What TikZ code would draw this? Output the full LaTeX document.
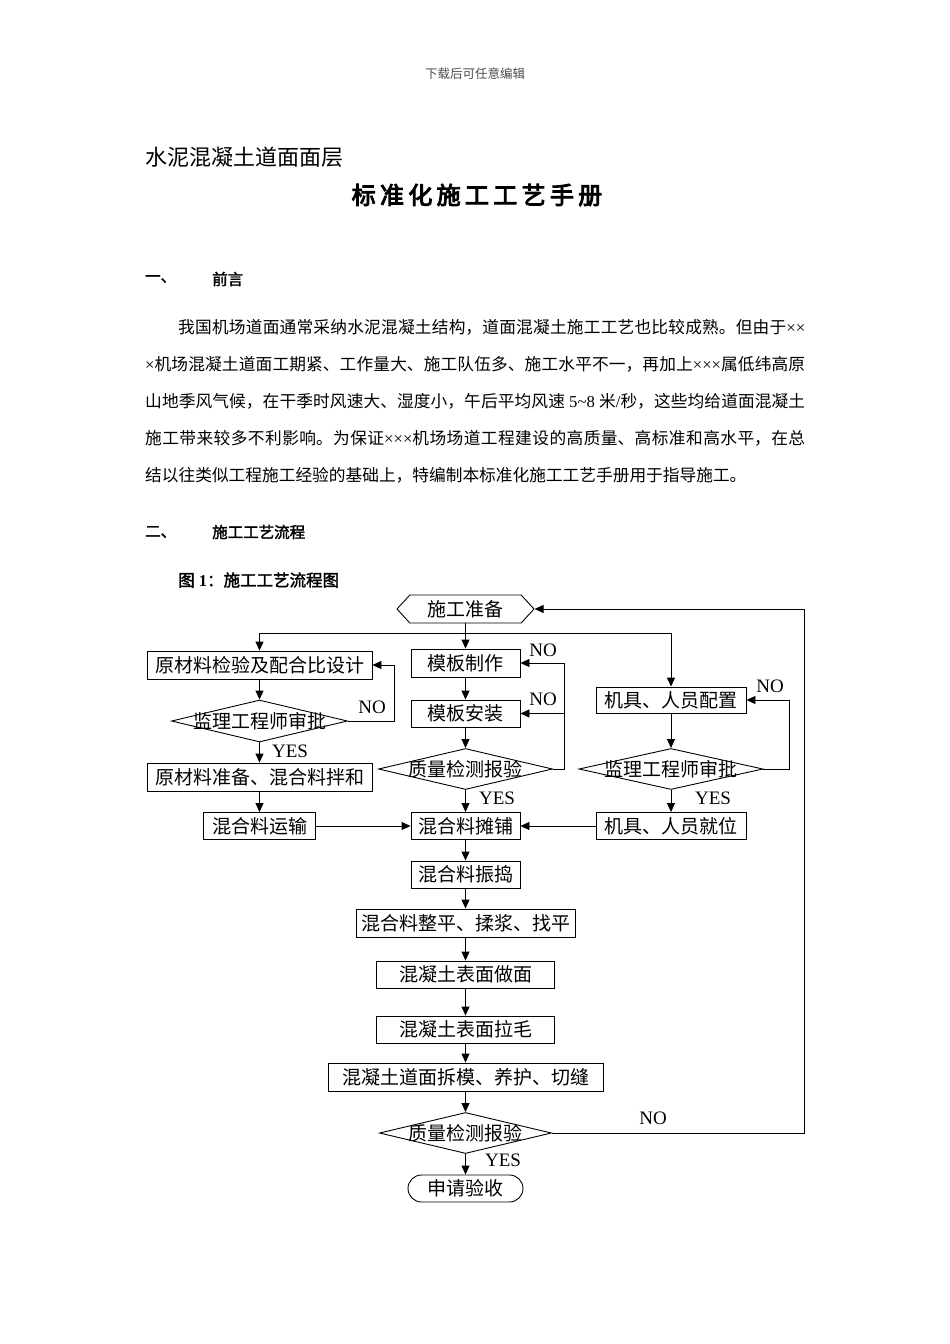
\documentclass[tikz,border=0pt]{standalone}
\usepackage{fontspec}
\setmainfont{Liberation Serif}
\newfontfamily\cjk{Noto Sans CJK SC}
\newfontfamily\cjkb[FakeBold=2]{Noto Sans CJK SC}
\newfontfamily\cjkt[FakeBold=4,LetterSpace=18]{Noto Sans CJK SC}
\usetikzlibrary{arrows.meta,shapes.geometric,shapes.symbols,shapes.misc}
\XeTeXlinebreaklocale "zh"
\XeTeXlinebreakskip=0pt plus 3pt
\newcommand\latn[1]{{\rmfamily #1}}
\newcommand\jline[2]{\parbox{#1}{\tolerance=10000\parindent=0pt\parfillskip=0pt\relax #2}}
\tikzset{
  lw/.style={line width=0.9pt},
  box/.style={draw, lw, rectangle, inner sep=0pt, font=\cjk\fontsize{19}{22}\selectfont},
  dia/.style={draw, lw, diamond, inner sep=0pt, font=\cjk\fontsize{19}{22}\selectfont},
  arr/.style={lw, -{Triangle[length=9pt,width=8pt]}},
  ln/.style={lw},
  lab/.style={font=\rmfamily\fontsize{19}{22}\selectfont, inner sep=0pt},
  body/.style={font=\cjk\fontsize{16.7}{20}\selectfont, inner sep=0pt, anchor=west},
  head/.style={font=\cjkb\fontsize{15.5}{18}\selectfont, inner sep=0pt, anchor=west},
}
\begin{document}
\begin{tikzpicture}[x=1pt,y=-1pt]
\useasboundingbox (0,0) rectangle (950,1344);
\fill[white] (0,0) rectangle (950,1344);

% page header and titles
\node[inner sep=0pt, text=black!70, font=\cjk\fontsize{12.5}{14}\selectfont] (hdr) at (475,74) {下载后可任意编辑};
\node[inner sep=0pt, anchor=west, font=\cjk\fontsize{22}{26}\selectfont] (t1) at (145,157) {水泥混凝土道面面层};
\node[inner sep=0pt, font=\cjkt\fontsize{24}{28}\selectfont] (t2) at (477,195) {标准化施工工艺手册};

\node[head] (h1a) at (145,279) {一、};
\node[head] (h1b) at (212,279) {前言};

\node[body] (p1) at (178,327) {\jline{627pt}{我国机场道面通常采纳水泥混凝土结构，道面混凝土施工工艺也比较成熟。但由于\latn{××}}};
\node[body] (p2) at (145,364) {\jline{660pt}{\latn{×}机场混凝土道面工期紧、工作量大、施工队伍多、施工水平不一，再加上\latn{×××}属低纬高原}};
\node[body] (p3) at (145,401) {\jline{660pt}{山地季风气候，在干季时风速大、湿度小，午后平均风速\latn{ 5\textasciitilde8 }米\latn{/}秒，这些均给道面混凝土}};
\node[body] (p4) at (145,438) {\jline{660pt}{施工带来较多不利影响。为保证\latn{×××}机场场道工程建设的高质量、高标准和高水平，在总}};
\node[body] (p5) at (145,475) {结以往类似工程施工经验的基础上，特编制本标准化施工工艺手册用于指导施工。};

\node[head] (h2a) at (145,532) {二、};
\node[head] (h2b) at (212,532) {施工工艺流程};
\node[head, font=\cjkb\fontsize{16.5}{18}\selectfont] (fig) at (178,580) {图\latn{\bfseries\ 1}：施工工艺流程图};

% flowchart nodes
\node[draw, lw, signal, signal to=west and east, signal pointer angle=95, inner sep=0pt,
      minimum width=137pt, minimum height=28pt, font=\cjk\fontsize{19}{22}\selectfont] (prep) at (465.5,609) {施工准备};

\node[box, minimum width=225pt, minimum height=28pt] (b1) at (259.5,665) {原材料检验及配合比设计};
\node[dia, minimum width=176pt, minimum height=42pt] (d1) at (259.5,721) {\makebox[0pt]{监理工程师审批}};
\node[box, minimum width=225pt, minimum height=28pt] (b2) at (259.5,777) {原材料准备、混合料拌和};
\node[box, minimum width=112pt, minimum height=27pt] (b3) at (259.5,826) {混合料运输};

\node[box, minimum width=109pt, minimum height=28pt] (m1) at (465.5,663) {模板制作};
\node[box, minimum width=109pt, minimum height=27pt] (m2) at (465.5,713.5) {模板安装};
\node[dia, minimum width=174pt, minimum height=41pt] (d2) at (465.5,769) {\makebox[0pt]{质量检测报验}};
\node[box, minimum width=109pt, minimum height=27pt] (m3) at (465.5,826) {混合料摊铺};

\node[box, minimum width=150pt, minimum height=26pt] (r1) at (671,700) {机具、人员配置};
\node[dia, minimum width=184pt, minimum height=41pt] (d3) at (671,769) {\makebox[0pt]{监理工程师审批}};
\node[box, minimum width=150pt, minimum height=27pt] (r2) at (671,826) {机具、人员就位};

\node[box, minimum width=109pt, minimum height=27pt] (c1) at (465.5,874.5) {混合料振捣};
\node[box, minimum width=219pt, minimum height=28pt] (c2) at (465.5,923) {混合料整平、揉浆、找平};
\node[box, minimum width=178pt, minimum height=27pt] (c3) at (465.5,974.5) {混凝土表面做面};
\node[box, minimum width=178pt, minimum height=27pt] (c4) at (465.5,1029.5) {混凝土表面拉毛};
\node[box, minimum width=275pt, minimum height=28pt] (c5) at (465.5,1077) {混凝土道面拆模、养护、切缝};
\node[dia, minimum width=172pt, minimum height=41pt] (d4) at (465.5,1133) {\makebox[0pt]{质量检测报验}};
\node[draw, lw, rounded rectangle, inner sep=0pt, minimum width=115pt, minimum height=27pt,
      font=\cjk\fontsize{19}{22}\selectfont] (e) at (465.5,1188.5) {申请验收};

% labels
\node[lab] (no1) at (372,707) {NO};
\node[lab] (no2) at (543,650) {NO};
\node[lab] (no3) at (543,699) {NO};
\node[lab] (no4) at (770,686) {NO};
\node[lab] (no5) at (653,1118) {NO};
\node[lab] (y1) at (290,751) {YES};
\node[lab] (y2) at (497,798) {YES};
\node[lab] (y3) at (713,798) {YES};
\node[lab] (y4) at (503,1160) {YES};

% connectors
\coordinate (sp) at (465.5,633);
\coordinate (loop) at (804,1133);
\draw[ln] (prep.south) -- (sp);
\draw[ln] (b1.north |- sp) -- (r1.north |- sp);
\draw[arr] (b1.north |- sp) -- (b1.north);
\draw[arr] (sp) -- (m1.north);
\draw[arr] (r1.north |- sp) -- (r1.north);

\draw[arr] (b1) -- (d1);
\draw[arr] (d1.east) -- ++(46,0) |- (b1.east);
\draw[arr] (d1) -- (b2);
\draw[arr] (b2) -- (b3);
\draw[arr] (b3) -- (m3);
\draw[arr] (r2) -- (m3);

\draw[arr] (m1) -- (m2);
\draw[arr] (m2) -- (d2);
\draw[arr] (d2) -- (m3);
\draw[arr] (d2.east) -- ++(11,0) coordinate (nq) |- (m1.east);
\draw[arr] (nq |- m2.east) -- (m2.east);

\draw[arr] (r1) -- (d3);
\draw[arr] (d3) -- (r2);
\draw[arr] (d3.east) -- ++(26,0) |- (r1.east);

\draw[arr] (m3) -- (c1);
\draw[arr] (c1) -- (c2);
\draw[arr] (c2) -- (c3);
\draw[arr] (c3) -- (c4);
\draw[arr] (c4) -- (c5);
\draw[arr] (c5) -- (d4);
\draw[arr] (d4) -- (e);
\draw[arr] (d4.east) -- (loop) |- (prep.east);
\end{tikzpicture}
\end{document}
